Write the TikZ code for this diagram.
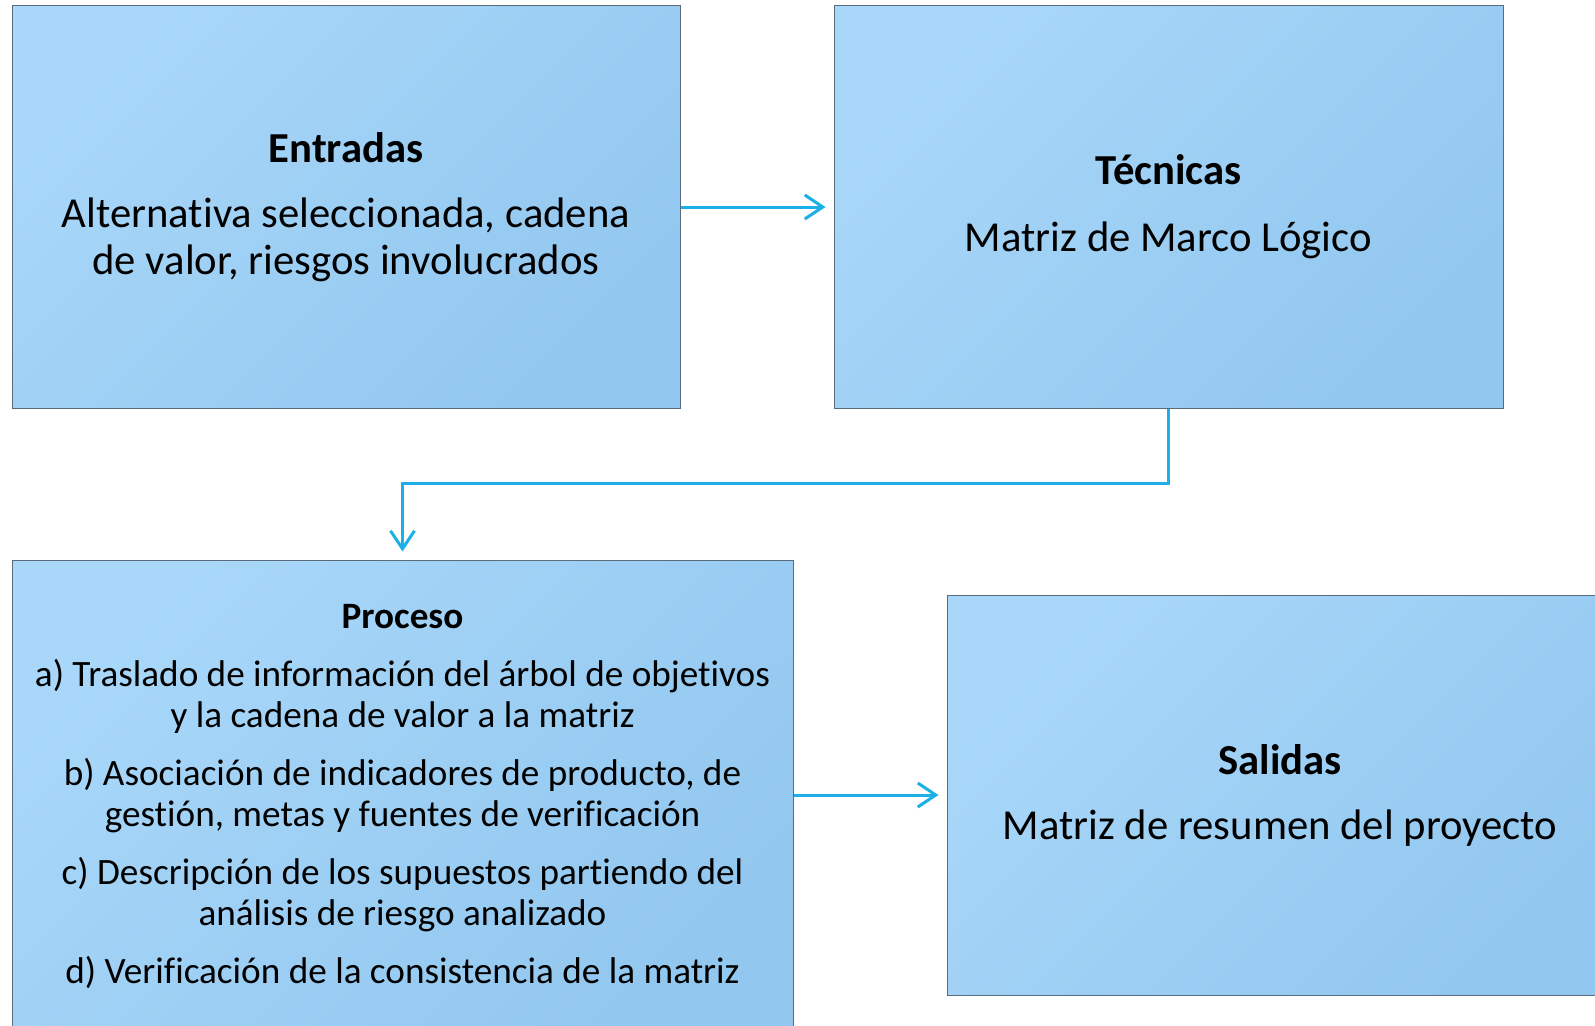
\documentclass[tikz,border=0pt]{standalone}
\usepackage{fontspec}
\setmainfont[Ligatures=NoCommon]{Carlito}
\usepackage{xcolor}
\definecolor{boxlight}{HTML}{A8D7F9}
\definecolor{boxdark}{HTML}{92C7EF}
\definecolor{boxedge}{HTML}{5A6B7C}
\definecolor{flecha}{HTML}{1DB0E6}
\usepackage{tikz}
\usetikzlibrary{arrows.meta}
\tikzset{>={Straight Barb[length=18pt,width=24pt]}}
\tikzset{caja/.style={draw=boxedge, line width=1pt, inner sep=0pt, align=center,
    top color=boxlight, bottom color=boxdark, shading angle=45},
  grande/.style={font=\fontsize{42.7}{47}\selectfont},
  chica/.style={font=\fontsize{37.2}{41.5}\selectfont},
  conector/.style={->, flecha, line width=3pt, shorten >=8pt}}

\begin{document}
\begin{tikzpicture}[x=1pt,y=-1pt]
\useasboundingbox (0,0) rectangle (1595,1025);
\begin{scope}
\clip (0,0) rectangle (1595,1025);
\node[caja, grande, minimum width=668pt, minimum height=402pt] (entradas) at (346,207)
  {\textbf{Entradas}\\[18pt]Alternativa seleccionada, cadena\\de valor, riesgos involucrados};
\node[caja, grande, minimum width=669pt, minimum height=402pt] (tecnicas) at (1168.5,207)
  {\textbf{Técnicas}\\[20pt]Matriz de Marco Lógico};
\node[caja, chica, minimum width=781pt, minimum height=473pt] (proceso) at (402.5,796.5)
  {\textbf{Proceso}\\[16pt]a) Traslado de información del árbol de objetivos\\
   y la cadena de valor a la matriz\\[16pt]b) Asociación de indicadores de producto, de\\
   gestión, metas y fuentes de verificación\\[16pt]c) Descripción de los supuestos partiendo del\\
   análisis de riesgo analizado\\[16pt]d) Verificación de la consistencia de la matriz};
\node[caja, grande, minimum width=666pt, minimum height=400pt] (salidas) at (1280,795)
  {\textbf{Salidas}\\[18pt]Matriz de resumen del proyecto};
\end{scope}

\draw[conector] (entradas.east) -- (tecnicas.west);
\draw[conector] (tecnicas.south) -- ++(0,75) -| (proceso.north);
\draw[conector] (salidas.west -| proceso.east) -- (salidas.west);
\end{tikzpicture}
\end{document}
